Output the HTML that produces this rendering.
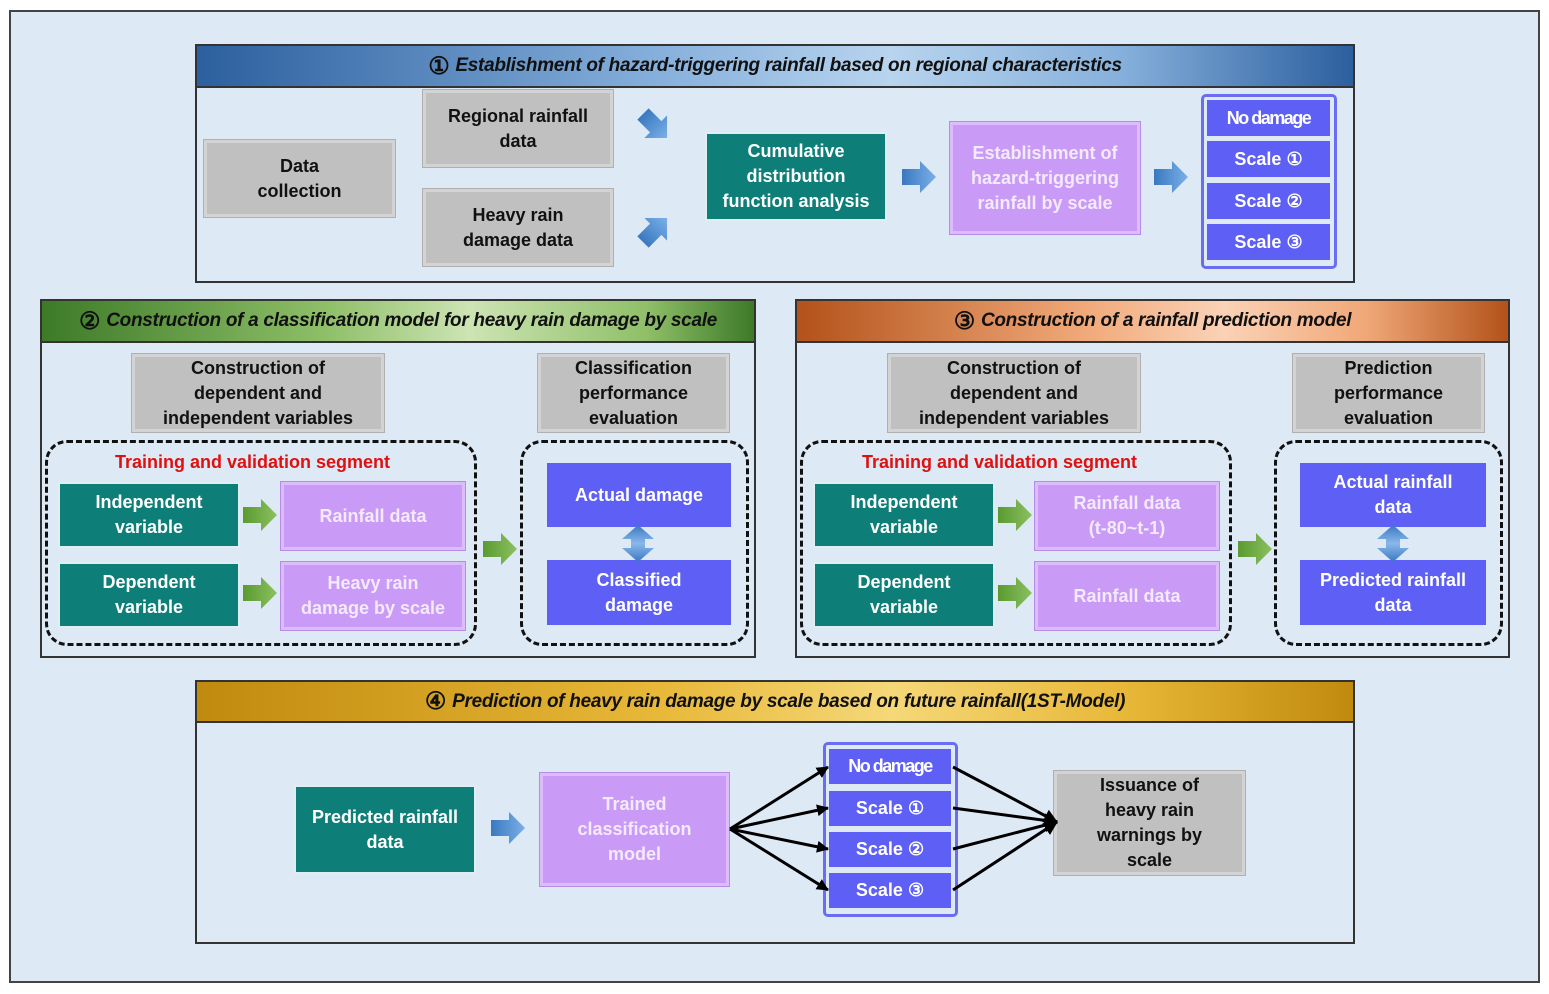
<!DOCTYPE html>
<html><head><meta charset="utf-8"><style>
body{margin:0;width:1549px;height:994px;background:#fff;position:relative;overflow:hidden;font-family:"Liberation Sans",sans-serif}
.a{position:absolute;box-sizing:border-box;display:flex;align-items:center;justify-content:center;text-align:center;font-weight:bold;font-size:18px;line-height:25px}
.panel{position:absolute;box-sizing:border-box;border:2px solid #333;background:#dde9f5}
.hd{position:absolute;left:0;right:0;top:0;box-sizing:border-box;border-bottom:2px solid #333;display:flex;align-items:center;justify-content:center;font-style:italic;font-weight:bold;font-size:19px;letter-spacing:-0.3px;color:#111}
.hd span{font-size:24px;font-style:normal;margin-right:6px}
.g{background:#c0c0c0;border:3px solid #d3d3d3;outline:1px solid #b0b0b0;color:#111}
.t{background:#0e7f78;color:#fff;border:2px solid #dfeef0}
.p{background:#c99bf6;color:#f4eaff;border:3px solid #dcbcfa;outline:1px solid #b98be8}
.b{background:#5d5ff5;color:#fff}
.d{position:absolute;box-sizing:border-box;border:3px dashed #111;border-radius:22px}
.grp{position:absolute;box-sizing:border-box;border:3px solid #6a6cf2;border-radius:5px;background:#dde9f5}
.red{position:absolute;color:#e01010;font-weight:bold;font-size:18px}
</style></head><body>
<div style="position:absolute;left:9px;top:10px;width:1531px;height:973px;box-sizing:border-box;border:2px solid #444;background:#dde9f5"></div>

<div class="panel" style="left:195px;top:44px;width:1160px;height:239px">
<div class="hd" style="height:42px;background:linear-gradient(90deg,#2c5f9e,#86b0dc 40%,#b8d4ee 60%,#86b0dc 80%,#2c5f9e)"><span>①</span>Establishment of hazard-triggering rainfall based on regional characteristics</div></div>
<div class="a g" style="left:204px;top:140px;width:191px;height:77px">Data<br>collection</div>
<div class="a g" style="left:423px;top:90px;width:190px;height:77px">Regional rainfall<br>data</div>
<div class="a g" style="left:423px;top:189px;width:190px;height:77px">Heavy rain<br>damage data</div>
<div class="a t" style="left:705px;top:132px;width:182px;height:89px">Cumulative<br>distribution<br>function analysis</div>
<div class="a p" style="left:950px;top:122px;width:190px;height:112px">Establishment of<br>hazard-triggering<br>rainfall by scale</div>
<div class="grp" style="left:1201px;top:94px;width:136px;height:175px"></div>
<div class="a b" style="left:1207px;top:100px;width:123px;height:36px;letter-spacing:-1.5px">No damage</div>
<div class="a b" style="left:1207px;top:141px;width:123px;height:36px">Scale ①</div>
<div class="a b" style="left:1207px;top:183px;width:123px;height:36px">Scale ②</div>
<div class="a b" style="left:1207px;top:224px;width:123px;height:36px">Scale ③</div>

<div class="panel" style="left:40px;top:299px;width:716px;height:359px">
<div class="hd" style="height:42px;background:linear-gradient(90deg,#3d7a28,#8fbf68 40%,#cde4b4 60%,#8fbf68 85%,#3d7a28)"><span>②</span>Construction of a classification model for heavy rain damage by scale</div></div>
<div class="a g" style="left:132px;top:354px;width:252px;height:78px">Construction of<br>dependent and<br>independent variables</div>
<div class="a g" style="left:538px;top:354px;width:191px;height:78px">Classification<br>performance<br>evaluation</div>
<div class="d" style="left:45px;top:440px;width:432px;height:206px"></div>
<div class="red" style="left:115px;top:452px">Training and validation segment</div>
<div class="a t" style="left:58px;top:482px;width:182px;height:66px">Independent<br>variable</div>
<div class="a t" style="left:58px;top:562px;width:182px;height:66px">Dependent<br>variable</div>
<div class="a p" style="left:281px;top:482px;width:184px;height:68px">Rainfall data</div>
<div class="a p" style="left:281px;top:562px;width:184px;height:68px">Heavy rain<br>damage by scale</div>
<div class="d" style="left:520px;top:440px;width:229px;height:206px"></div>
<div class="a b" style="left:547px;top:463px;width:184px;height:64px">Actual damage</div>
<div class="a b" style="left:547px;top:560px;width:184px;height:65px">Classified<br>damage</div>

<div class="panel" style="left:795px;top:299px;width:715px;height:359px">
<div class="hd" style="height:42px;background:linear-gradient(90deg,#b3521a,#f0a878 40%,#fad2b6 60%,#f0a878 80%,#b3521a)"><span>③</span>Construction of a rainfall prediction model</div></div>
<div class="a g" style="left:888px;top:354px;width:252px;height:78px">Construction of<br>dependent and<br>independent variables</div>
<div class="a g" style="left:1293px;top:354px;width:191px;height:78px">Prediction<br>performance<br>evaluation</div>
<div class="d" style="left:800px;top:440px;width:432px;height:206px"></div>
<div class="red" style="left:862px;top:452px">Training and validation segment</div>
<div class="a t" style="left:813px;top:482px;width:182px;height:66px">Independent<br>variable</div>
<div class="a t" style="left:813px;top:562px;width:182px;height:66px">Dependent<br>variable</div>
<div class="a p" style="left:1035px;top:482px;width:184px;height:68px">Rainfall data<br>(t-80~t-1)</div>
<div class="a p" style="left:1035px;top:562px;width:184px;height:68px">Rainfall data</div>
<div class="d" style="left:1274px;top:440px;width:229px;height:206px"></div>
<div class="a b" style="left:1300px;top:463px;width:186px;height:64px">Actual rainfall<br>data</div>
<div class="a b" style="left:1300px;top:560px;width:186px;height:65px">Predicted rainfall<br>data</div>

<div class="panel" style="left:195px;top:680px;width:1160px;height:264px">
<div class="hd" style="height:41px;background:linear-gradient(90deg,#c08a0e,#e8b838 40%,#f5d878 60%,#e8b838 80%,#c08a0e)"><span>④</span>Prediction of heavy rain damage by scale based on future rainfall(1ST-Model)</div></div>
<div class="a t" style="left:294px;top:785px;width:182px;height:89px">Predicted rainfall<br>data</div>
<div class="a p" style="left:540px;top:773px;width:189px;height:113px">Trained<br>classification<br>model</div>
<div class="grp" style="left:823px;top:742px;width:135px;height:175px"></div>
<div class="a b" style="left:829px;top:749px;width:122px;height:35px;letter-spacing:-1.5px">No damage</div>
<div class="a b" style="left:829px;top:791px;width:122px;height:35px">Scale ①</div>
<div class="a b" style="left:829px;top:832px;width:122px;height:35px">Scale ②</div>
<div class="a b" style="left:829px;top:873px;width:122px;height:35px">Scale ③</div>
<div class="a g" style="left:1054px;top:771px;width:191px;height:104px">Issuance of<br>heavy rain<br>warnings by<br>scale</div>

<svg style="position:absolute;left:0;top:0" width="1549" height="994">
<defs>
<linearGradient id="bl" x1="0" x2="1"><stop offset="0" stop-color="#3a78c0"/><stop offset="1" stop-color="#7ab0e8"/></linearGradient>
<linearGradient id="gr" x1="0" x2="1"><stop offset="0" stop-color="#5a9a30"/><stop offset="1" stop-color="#8cc060"/></linearGradient>
<linearGradient id="bv" x1="0" y1="0" x2="0" y2="1"><stop offset="0" stop-color="#3a78c0"/><stop offset=".5" stop-color="#8ab8ea"/><stop offset="1" stop-color="#3a78c0"/></linearGradient>
<polygon id="ba" points="0,-8 18,-8 18,-16 34,0 18,16 18,8 0,8"/>
<marker id="m" markerWidth="12" markerHeight="12" refX="11" refY="6" orient="auto" markerUnits="userSpaceOnUse"><path d="M0,0 L12,6 L0,12z" fill="#000"/></marker>
<marker id="m2" markerWidth="14" markerHeight="14" refX="13" refY="7" orient="auto" markerUnits="userSpaceOnUse"><path d="M0,0 L14,7 L0,14z" fill="#000"/></marker>
</defs>
<use href="#ba" fill="url(#bl)" transform="translate(643,114) rotate(45)"/>
<use href="#ba" fill="url(#bl)" transform="translate(643,242) rotate(-45)"/>
<use href="#ba" fill="url(#bl)" transform="translate(902,177)"/>
<use href="#ba" fill="url(#bl)" transform="translate(1154,177)"/>
<use href="#ba" fill="url(#bl)" transform="translate(491,828)"/>
<use href="#ba" fill="url(#gr)" transform="translate(243,515)"/>
<use href="#ba" fill="url(#gr)" transform="translate(243,593)"/>
<use href="#ba" fill="url(#gr)" transform="translate(483,549)"/>
<use href="#ba" fill="url(#gr)" transform="translate(998,515)"/>
<use href="#ba" fill="url(#gr)" transform="translate(998,593)"/>
<use href="#ba" fill="url(#gr)" transform="translate(1238,549)"/>
<polygon points="638,525 654,539 645,539 645,548 654,548 638,562 622,548 631,548 631,539 622,539" fill="url(#bv)"/>
<polygon points="1393,525 1409,539 1400,539 1400,548 1409,548 1393,562 1377,548 1386,548 1386,539 1377,539" fill="url(#bv)"/>
<g stroke="#000" stroke-width="3" fill="none">
<line x1="730" y1="829" x2="828" y2="767" marker-end="url(#m)"/>
<line x1="730" y1="829" x2="828" y2="808" marker-end="url(#m)"/>
<line x1="730" y1="829" x2="828" y2="849" marker-end="url(#m)"/>
<line x1="730" y1="829" x2="828" y2="890" marker-end="url(#m)"/>
<line x1="953" y1="767" x2="1057" y2="822" marker-end="url(#m2)"/>
<line x1="953" y1="808" x2="1057" y2="822" marker-end="url(#m2)"/>
<line x1="953" y1="849" x2="1057" y2="822" marker-end="url(#m2)"/>
<line x1="953" y1="890" x2="1057" y2="822" marker-end="url(#m2)"/>
</g>
</svg>
</body></html>
